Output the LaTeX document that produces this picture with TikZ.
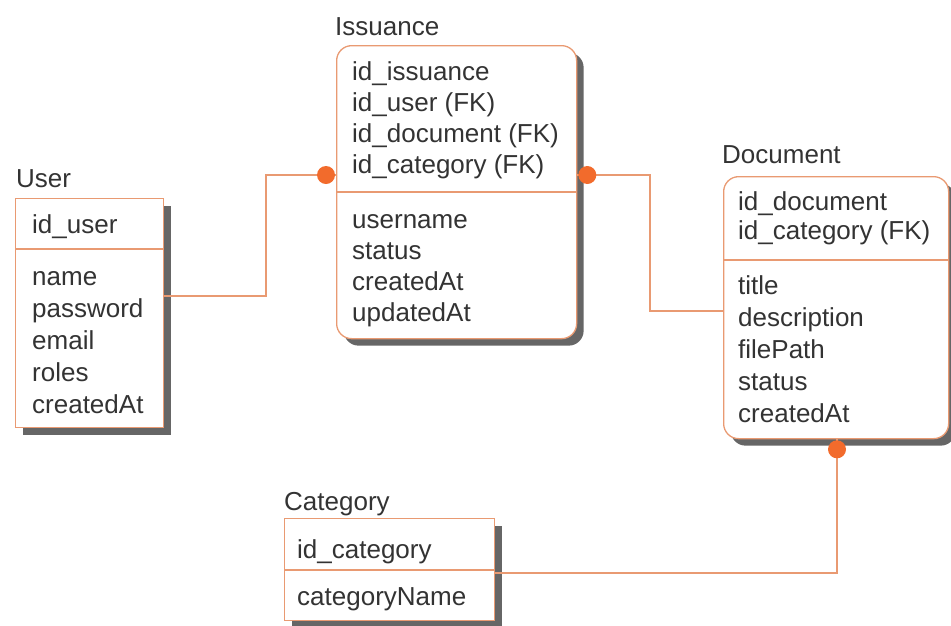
\documentclass[tikz,border=0pt]{standalone}
\usepackage{fontspec}
\setmainfont{Liberation Sans}
\usepackage{tikz}
\usetikzlibrary{shadows}

\definecolor{erline}{HTML}{E99A72}
\definecolor{erdot}{HTML}{F26B2C}
\definecolor{ertext}{HTML}{333333}

\tikzset{
  entity/.style={draw=erline,line width=1.3pt,fill=white,inner sep=0pt,anchor=north west,
    drop shadow={shadow xshift=7pt,shadow yshift=-7pt,fill=black!60,opacity=1}},
  entityround/.style={entity,rounded corners=15pt},
  attr/.style={anchor=base west,inner sep=0pt,text=ertext,font=\fontsize{26}{30}\selectfont},
  conn/.style={draw=erline,line width=1.3pt},
  fkdot/.style={fill=erdot}
}

\begin{document}
\begin{tikzpicture}[x=1pt,y=-1pt]
\useasboundingbox (0,0) rectangle (951,625);

% entities
\node[entity,minimum width=148pt,minimum height=229pt] (user) at (15,198) {};
\node[entityround,minimum width=240pt,minimum height=293pt] (issuance) at (336,45) {};
\node[entityround,minimum width=225pt,minimum height=262pt] (document) at (723,176) {};
\node[entity,minimum width=210pt,minimum height=102pt] (category) at (284,518) {};

% dividers
\draw[conn] (user.west |- 0,249) -- (user.east |- 0,249);
\draw[conn] (issuance.west |- 0,192) -- (issuance.east |- 0,192);
\draw[conn] (document.west |- 0,260) -- (document.east |- 0,260);
\draw[conn] (category.west |- 0,570) -- (category.east |- 0,570);

% titles
\node[attr] (usertitle) at (16,187) {User};
\node[attr] (issuancetitle) at (335,35) {Issuance};
\node[attr] (documenttitle) at (722,163) {Document};
\node[attr] (categorytitle) at (284,510) {Category};

% attributes
\node[attr] (user-key) at (32,233) {id\_user};
\foreach \t [count=\i] in {name,password,email,roles,createdAt}
  \node[attr] (user-\i) at (32,{285+32*(\i-1)}) {\t};

\foreach \t [count=\i] in {id\_issuance,id\_user (FK),id\_document (FK),id\_category (FK)}
  \node[attr] (issuance-key\i) at (352,{80+31*(\i-1)}) {\t};
\foreach \t [count=\i] in {username,status,createdAt,updatedAt}
  \node[attr] (issuance-\i) at (352,{228+31*(\i-1)}) {\t};

\foreach \t [count=\i] in {id\_document,id\_category (FK)}
  \node[attr] (document-key\i) at (738,{210+29*(\i-1)}) {\t};
\foreach \t [count=\i] in {title,description,filePath,status,createdAt}
  \node[attr] (document-\i) at (738,{294+32*(\i-1)}) {\t};

\node[attr] (category-key) at (297,558) {id\_category};
\node[attr] (category-1) at (297,605) {categoryName};

% relationships
\draw[conn] (user.east |- 0,296) -| (266,175) -- (issuance.west |- 0,175);
\fill[fkdot] ([xshift=-10pt]issuance.west |- 0,175) circle (9pt);

\draw[conn] (issuance.east |- 0,175) -| (650,311) -- (document.west |- 0,311);
\fill[fkdot] ([xshift=10pt]issuance.east |- 0,175) circle (9pt);

\draw[conn] (document.south -| 837,0) |- (category.east |- 0,573);
\fill[fkdot] ([yshift=-10pt]document.south -| 837,0) circle (9pt);
\end{tikzpicture}
\end{document}
